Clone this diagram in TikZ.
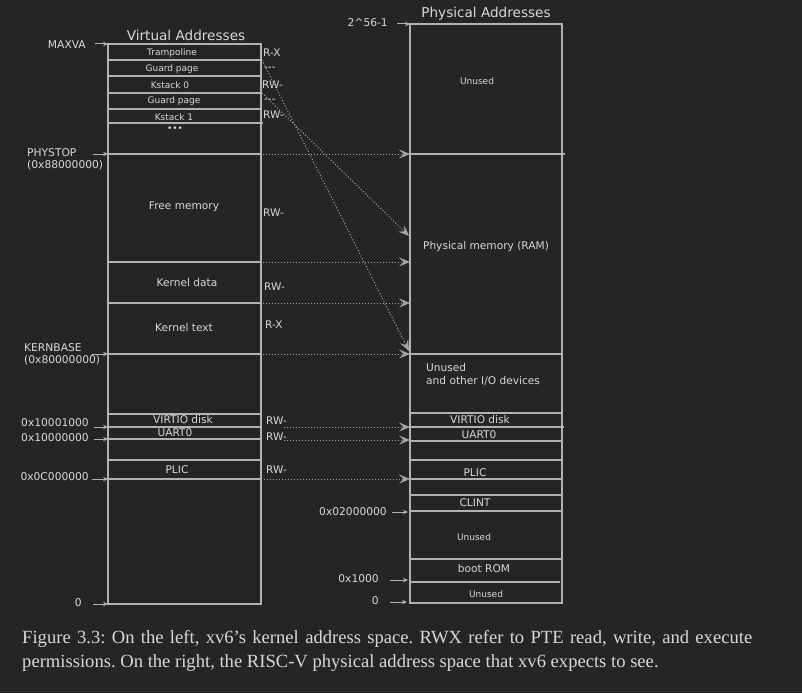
\documentclass[tikz,border=0pt]{standalone}
\usepackage{fontspec}
\setmainfont{DejaVu Sans}
\newfontfamily\capfont{Liberation Serif}
\usetikzlibrary{arrows.meta}
\definecolor{bg}{HTML}{252525}
\definecolor{ln}{HTML}{B2B2B2}
\definecolor{tx}{HTML}{D8D8D8}
\definecolor{dl}{HTML}{A6A6A6}
\frenchspacing
\tikzset{
  box/.style={draw=ln, line width=1.5pt},
  sep/.style={draw=ln, line width=1.5pt},
  lbl/.style={text=tx, inner sep=0pt, font=\fontsize{10.7}{12.5}\selectfont},
  small/.style={text=tx, inner sep=0pt, font=\fontsize{9}{10}\selectfont},
  mid/.style={text=tx, inner sep=0pt, font=\fontsize{10.6}{13}\selectfont},
  ttl/.style={text=tx, inner sep=0pt, font=\fontsize{13.6}{15}\selectfont},
  perm/.style={text=tx, inner sep=0pt, anchor=west, font=\fontsize{10.5}{12}\selectfont},
  larr/.style={draw=ln, line width=1pt, -{Stealth[length=5pt,width=4.5pt]}},
  darr/.style={draw=dl, line width=1pt, dash pattern=on 1pt off 2pt,
               -{Stealth[length=11pt,width=9pt,inset=4.5pt,line width=0.6pt]}},
  captext/.style={text=tx, inner sep=0pt, anchor=north west, text width=730pt, align=justify,
                  font=\capfont\fontsize{18.6}{24}\selectfont\frenchspacing},
}
\begin{document}
\begin{tikzpicture}[x=1pt,y=-1pt]
\fill[bg] (0,0) rectangle (802,693);
\useasboundingbox (0,0) rectangle (802,693);

% ---------- left box (virtual) ----------
\node[ttl] (vtitle) at (186,35) {Virtual Addresses};
\draw[box] (108,44) rectangle (261,604);
\foreach \y in {60,76,93,109,154,262,303,354,414,427,439,460,479}
  \draw[sep] (108,\y) -- (261,\y);
\draw[sep] (108,123) -- (263,123);

\node[small] (tramp) at (172,53) {Trampoline};
\node[small] (guard0) at (172,69) {Guard page};
\node[small] (ks0) at (170,85) {Kstack 0};
\node[small] (guard1) at (174,101) {Guard page};
\node[small] (ks1) at (174,117) {Kstack 1};
\node[small] (dots) at (175,129) {•••};
\node[mid] (free) at (184,207) {Free memory};
\node[mid] (kdata) at (187,283) {Kernel data};
\node[mid] (ktext) at (184,328) {Kernel text};
\node[mid] (vvirtio) at (183,420) {VIRTIO disk};
\node[mid] (vuart) at (175,433) {UART0};
\node[mid] (vplic) at (177,470) {PLIC};

% permissions
\node[perm] (p1) at (263,53) {R-X};
\node[perm] (p2) at (264,69) {-{}-{}-};
\node[perm] (p3) at (262,85) {RW-};
\node[perm] (p4) at (264,101) {-{}-{}-};
\node[perm] (p5) at (263,115) {RW-};
\node[perm] (p6) at (263,213) {RW-};
\node[perm] (p7) at (264,287) {RW-};
\node[perm] (p8) at (265,325) {R-X};
\node[perm] (p9) at (266,421) {RW-};
\node[perm] (p10) at (266,437) {RW-};
\node[perm] (p11) at (266,470) {RW-};

% left address labels
\node[lbl, anchor=east] (maxva) at (86,45) {MAXVA};
\node[lbl, anchor=west, align=left] (phystop) at (27,159) {PHYSTOP\\(0x88000000)};
\node[lbl, anchor=west, align=left] (kernbase) at (24,354) {KERNBASE\\(0x80000000)};
\node[lbl, anchor=east] (a1) at (89,423) {0x10001000};
\node[lbl, anchor=east] (a2) at (89,438) {0x10000000};
\node[lbl, anchor=east] (a3) at (89,477) {0x0C000000};
\node[lbl, anchor=east] (a4) at (82,603) {0};

\coordinate (tmaxva) at (95,44);   \coordinate (hmaxva) at (108,44);
\coordinate (tphys) at (93,154);   \coordinate (hphys) at (108,154);
\coordinate (tkern) at (92,354);   \coordinate (hkern) at (108,354);
\coordinate (ta1) at (94,427);     \coordinate (ha1) at (108,427);
\coordinate (ta2) at (94,439);     \coordinate (ha2) at (108,439);
\coordinate (ta3) at (92,479);     \coordinate (ha3) at (108,479);
\coordinate (ta4) at (93,604);     \coordinate (ha4) at (108,604);
\foreach \n in {maxva,phys,kern,a1,a2,a3,a4}
  \draw[larr] (t\n) -- (h\n);

% ---------- right box (physical) ----------
\node[ttl] (ptitle) at (486,14) {Physical Addresses};
\draw[box] (410,24) rectangle (562,603);
\foreach \y in {354,413,441,460,479,495,511,559}
  \draw[sep] (410,\y) -- (562,\y);
\draw[sep] (410,154) -- (565,154);
\draw[sep] (410,427) -- (564,427);
\draw[sep] (410,582) -- (560,582);

\node[small] (punused1) at (477,81) {Unused};
\node[mid] (pram) at (486,247) {Physical memory (RAM)};
\node[mid, anchor=north west, align=left] (pio) at (426,363) {Unused\\and other I/O devices};
\node[mid] (pvirtio) at (480,420) {VIRTIO disk};
\node[mid] (puart) at (479,435) {UART0};
\node[mid] (pplic) at (475,473) {PLIC};
\node[mid] (pclint) at (475,503) {CLINT};
\node[small] (punused2) at (474,537) {Unused};
\node[mid] (prom) at (484,569) {boot ROM};
\node[small] (punused3) at (486,594) {Unused};

% right address labels
\node[lbl, anchor=east] (top) at (388,23) {2\textasciicircum56-1};
\node[lbl, anchor=east] (b1) at (387,512) {0x02000000};
\node[lbl, anchor=east] (b2) at (379,579) {0x1000};
\node[lbl, anchor=east] (b3) at (379,601) {0};
\coordinate (ttop) at (397,24);  \coordinate (htop) at (410,24);
\coordinate (tb1) at (392,512);  \coordinate (hb1) at (408,512);
\coordinate (tb2) at (390,580);  \coordinate (hb2) at (408,580);
\coordinate (tb3) at (390,602);  \coordinate (hb3) at (407,602);
\foreach \n in {top,b1,b2,b3}
  \draw[larr] (t\n) -- (h\n);

% ---------- mappings ----------
\coordinate (m1s) at (263,154); \coordinate (m1e) at (410,154);
\coordinate (m2s) at (263,262); \coordinate (m2e) at (410,262);
\coordinate (m3s) at (263,303); \coordinate (m3e) at (410,303);
\coordinate (m4s) at (263,354); \coordinate (m4e) at (410,354);
\coordinate (m5s) at (284,427); \coordinate (m5e) at (410,427);
\coordinate (m6s) at (284,440); \coordinate (m6e) at (410,440);
\coordinate (m7s) at (264,479); \coordinate (m7e) at (410,479);
\foreach \n in {1,...,7}
  \draw[darr] (m\n s) -- (m\n e);
\coordinate (d1s) at (262,60); \coordinate (d1e) at (409,351);
\coordinate (d2s) at (262,93); \coordinate (d2e) at (409,236);
\draw[darr] (d1s) -- (d1e);
\draw[darr] (d2s) -- (d2e);

% ---------- caption ----------
\node[captext] (caption) at (22,630) {Figure 3.3: On the left, xv6’s kernel address space. RWX refer to PTE read, write, and execute\linebreak permissions. On the right, the RISC-V physical address space that xv6 expects to see.};
\end{tikzpicture}
\end{document}
